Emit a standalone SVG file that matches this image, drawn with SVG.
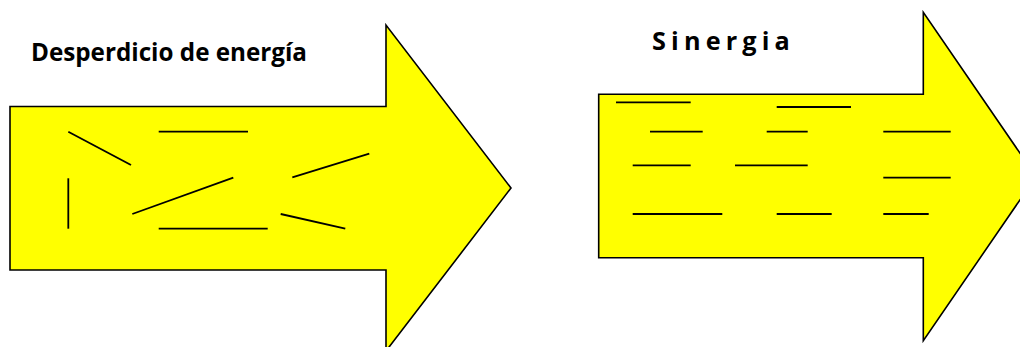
<svg xmlns="http://www.w3.org/2000/svg" width="1020" height="347" viewBox="0 0 1020 347">
<style>
.arrow{fill:#ffff00;stroke:#000;stroke-width:1.6;stroke-linejoin:miter}
.mark{stroke:#000;stroke-width:1.8;fill:none}
.title{font-family:"Open Sans","Noto Sans",sans-serif;font-weight:bold;font-size:24.5px;fill:#000}
</style>
<rect width="1020" height="347" fill="#fff"/>
<g id="node-desperdicio">
<polygon class="arrow" points="10,106.5 386,106.5 386,25 511,188 386,351 386,270 10,270"/>
<text class="title" x="31" y="61" textLength="276" lengthAdjust="spacingAndGlyphs">Desperdicio de energía</text>
<g class="marks">
<line class="mark" x1="68.3" y1="131.7" x2="131" y2="165"/>
<line class="mark" x1="158.7" y1="131.7" x2="248" y2="131.7"/>
<line class="mark" x1="68.3" y1="178.3" x2="68.3" y2="228.7"/>
<line class="mark" x1="132.3" y1="214" x2="233.3" y2="177.7"/>
<line class="mark" x1="292.3" y1="177.3" x2="369.3" y2="153.7"/>
<line class="mark" x1="158.7" y1="228.7" x2="267.7" y2="228.7"/>
<line class="mark" x1="280.7" y1="214" x2="345.3" y2="228.7"/>
</g>
</g>
<g id="node-sinergia">
<polygon class="arrow" points="598.7,94.3 923.3,94.3 923.3,12.3 1036,176.5 923.3,340.7 923.3,257.7 598.7,257.7"/>
<text class="title" x="652" y="50" textLength="143" lengthAdjust="spacingAndGlyphs" letter-spacing="5">Sinergia</text>
<g class="marks">
<line class="mark" x1="616" y1="102.3" x2="690.7" y2="102.3"/>
<line class="mark" x1="776.7" y1="107" x2="851" y2="107"/>
<line class="mark" x1="650" y1="131.7" x2="702.7" y2="131.7"/>
<line class="mark" x1="766.7" y1="131.7" x2="807.7" y2="131.7"/>
<line class="mark" x1="883.3" y1="131.7" x2="950.7" y2="131.7"/>
<line class="mark" x1="632.7" y1="165.3" x2="690.7" y2="165.3"/>
<line class="mark" x1="735" y1="165.3" x2="807.7" y2="165.3"/>
<line class="mark" x1="883.3" y1="177.7" x2="950.7" y2="177.7"/>
<line class="mark" x1="632.7" y1="214" x2="722.3" y2="214"/>
<line class="mark" x1="776.7" y1="214" x2="831.7" y2="214"/>
<line class="mark" x1="883.3" y1="214" x2="928.7" y2="214"/>
</g>
</g>
<g id="connectors"/>
</svg>
